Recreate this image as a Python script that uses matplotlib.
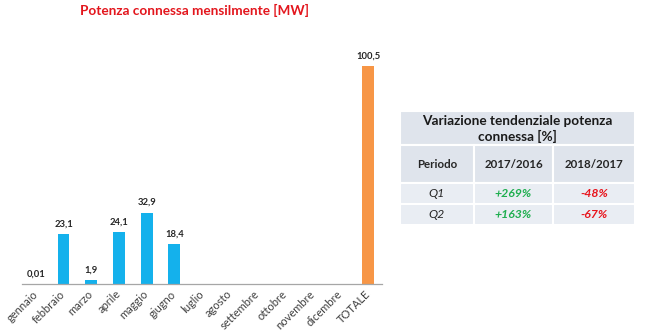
import matplotlib
matplotlib.use("Agg")
import matplotlib.pyplot as plt
from matplotlib.patches import Rectangle

plt.rcParams['font.family'] = ['Lato', 'DejaVu Sans']

# dati mensili [MW]
mesi = ['gennaio', 'febbraio', 'marzo', 'aprile', 'maggio', 'giugno', 'luglio',
        'agosto', 'settembre', 'ottobre', 'novembre', 'dicembre', 'TOTALE']
valori = [0.01, 23.1, 1.9, 24.1, 32.9, 18.4, None, None, None, None, None, None, 100.5]
etichette = ['0,01', '23,1', '1,9', '24,1', '32,9', '18,4', '', '', '', '', '', '', '100,5']

# tabella variazione tendenziale
tab_titolo = 'Variazione tendenziale potenza\nconnessa [%]'
tab_colonne = ['Periodo', '2017/2016', '2018/2017']
periodi = ['Q1', 'Q2']
var_2017 = ['+269%', '+163%']
var_2018 = ['-48%', '-67%']

W, H = 650, 335
fig = plt.figure(figsize=(6.5, 3.35), dpi=100)

def fx(px):
    return px / W

def fy(py):
    return 1 - py / H

# grafico a barre
ymax = 110
base, top100 = 284, 66
scale = (base - top100) / 100.5
ax_top = base - ymax * scale
ax = fig.add_axes([fx(22), fy(base), fx(382) - fx(22), fy(ax_top) - fy(base)])
blu, arancio = '#14b1ec', '#f79646'
for i, (v, lab) in enumerate(zip(valori, etichette)):
    if v is None:
        continue
    col = arancio if mesi[i] == 'TOTALE' else blu
    ax.bar(i, v, width=0.43, color=col)
    ax.annotate(lab, (i, v), xytext=(0, 4), textcoords='offset points',
                ha='center', va='bottom', fontsize=6.8, fontweight='bold', color='#262626')
ax.set_xlim(-0.5, len(mesi) - 0.5)
ax.set_ylim(0, ymax)
for s in ['top', 'right', 'left']:
    ax.spines[s].set_visible(False)
ax.spines['bottom'].set_color('#a6a6a6')
ax.spines['bottom'].set_linewidth(0.9)
ax.set_yticks([])
ax.set_xticks(range(len(mesi)))
ax.set_xticklabels(mesi, rotation=45, ha='right', va='center', rotation_mode='anchor',
                   fontsize=8, color='#404040')
ax.tick_params(axis='x', length=0, pad=6)

fig.text(fx(195), fy(10), 'Potenza connessa mensilmente [MW]', ha='center', va='center',
         fontsize=9.8, fontweight='bold', color='#e3161d')

# tabella
tx = fig.add_axes([0, 0, 1, 1])
tx.set_xlim(0, W)
tx.set_ylim(H, 0)
tx.axis('off')
cols = [400, 474, 553, 635]
rows = [111, 145, 183, 204, 225]
head_bg, row_bg = '#dfe4ec', '#e9edf3'
tx.add_patch(Rectangle((cols[0], rows[0]), cols[-1] - cols[0], rows[1] - rows[0],
                       facecolor=head_bg, edgecolor='white', lw=1.5))
for r in range(1, 4):
    bg = head_bg if r == 1 else row_bg
    for c in range(3):
        tx.add_patch(Rectangle((cols[c], rows[r]), cols[c + 1] - cols[c], rows[r + 1] - rows[r],
                               facecolor=bg, edgecolor='white', lw=1.5))
cx = [(cols[c] + cols[c + 1]) / 2 for c in range(3)]
tx.text(cols[0] + (cols[-1] - cols[0]) / 2, (rows[0] + rows[1]) / 2 + 1, tab_titolo,
        ha='center', va='center', fontsize=9.8, fontweight='bold', color='#1a1a1a',
        linespacing=1.25)
for c, t in enumerate(tab_colonne):
    tx.text(cx[c], (rows[1] + rows[2]) / 2, t, ha='center', va='center',
            fontsize=8.3, fontweight='bold', color='#262626')
for r, (p, a, b) in enumerate(zip(periodi, var_2017, var_2018)):
    yc = (rows[2 + r] + rows[3 + r]) / 2
    tx.text(cx[0], yc, p, ha='center', va='center', fontsize=8.8, style='italic', color='#262626')
    tx.text(cx[1], yc, a, ha='center', va='center', fontsize=8.8, style='italic',
            fontweight='bold', color='#1fae4f')
    tx.text(cx[2], yc, b, ha='center', va='center', fontsize=8.8, style='italic',
            fontweight='bold', color='#e8141c')

fig.savefig('out.png', dpi=100)
